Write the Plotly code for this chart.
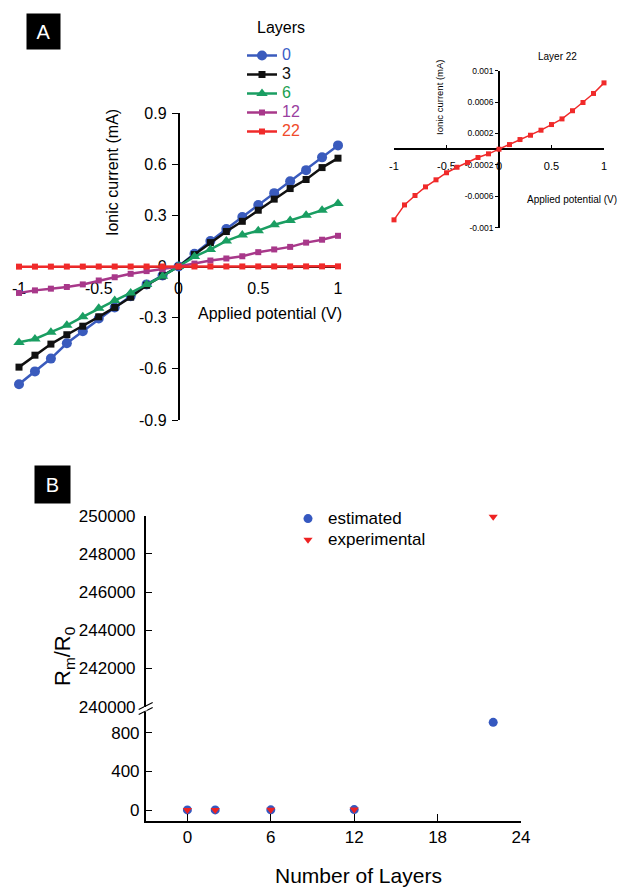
import plotly.graph_objects as go

# The page places the plot 8px from the top-left corner (default body margin),
# so positions read from the reference are shifted by that offset.
OX, OY = 8, 8
FW, FH = 611, 880
def fx(px): return (px - OX) / FW
def fy(py): return 1 - (py - OY) / FH

# ---------------- Data: panel A ----------------
voltage = [-1.0, -0.9, -0.8, -0.7, -0.6, -0.5, -0.4, -0.3, -0.2, -0.1, 0.0,
           0.1, 0.2, 0.3, 0.4, 0.5, 0.6, 0.7, 0.8, 0.9, 1.0]
current_0 = [-0.69, -0.615, -0.54, -0.45, -0.38, -0.305, -0.24, -0.174, -0.105, -0.053, 0.0,
             0.075, 0.15, 0.22, 0.29, 0.36, 0.43, 0.50, 0.565, 0.64, 0.71]
current_3 = [-0.59, -0.52, -0.455, -0.40, -0.35, -0.295, -0.24, -0.18, -0.11, -0.055, 0.0,
             0.07, 0.14, 0.205, 0.265, 0.33, 0.395, 0.457, 0.51, 0.58, 0.635]
current_6 = [-0.445, -0.425, -0.385, -0.345, -0.295, -0.245, -0.20, -0.155, -0.105, -0.057, 0.0,
             0.058, 0.10, 0.15, 0.185, 0.21, 0.245, 0.27, 0.30, 0.33, 0.37]
current_12 = [-0.155, -0.14, -0.13, -0.12, -0.105, -0.082, -0.063, -0.043, -0.027, -0.015, 0.0,
              0.017, 0.035, 0.047, 0.06, 0.084, 0.10, 0.115, 0.14, 0.157, 0.18]
current_22 = [-0.0009, -0.00071, -0.00059, -0.00048, -0.00039, -0.0003, -0.00023, -0.00017,
              -0.000106, -0.000059, 0.0, 0.000059, 0.000123, 0.000178, 0.000242, 0.000314,
              0.000386, 0.00049, 0.000595, 0.00071, 0.000845]
layer_names = ["0", "3", "6", "12", "22"]

a_x_ticks = [-1, -0.5, 0, 0.5, 1]
a_x_ticktext = ["-1", "-0.5", "0", "0.5", "1"]
a_y_ticks = [0.9, 0.6, 0.3, 0, -0.3, -0.6, -0.9]
a_y_ticktext = ["0.9", "0.6", "0.3", "0", "-0.3", "-0.6", "-0.9"]
inset_y_ticks = [0.001, 0.0006, 0.0002, -0.0002, -0.0006, -0.001]
inset_y_ticktext = ["0.001", "0.0006", "0.0002", "-0.0002", "-0.0006", "-0.001"]

# ---------------- Data: panel B ----------------
layers_b = [0, 2, 6, 12, 22]
estimated = [1.0, 1.1, 1.9, 3.9, 906]
experimental = [1.0, 1.12, 1.92, 3.94, 249950]
b_x_ticks = [0, 6, 12, 18, 24]
b_upper_ticks = [240000, 242000, 244000, 246000, 248000, 250000]
b_lower_ticks = [0, 400, 800]
BREAK = 240000

FONT = "Liberation Sans, Arial, sans-serif"
BLUE = "#3a5bbd"
BLACK = "#111111"
GREEN = "#1a9e62"
PURPLE = "#a8388a"
RED = "#f02a2a"

fig = go.Figure()

series = [
    (current_0, BLUE, "circle", 10, "#3a5cc6"),
    (current_3, BLACK, "square", 7, "#111111"),
    (current_6, GREEN, "triangle-up", 10, "#1aa050"),
    (current_12, PURPLE, "square", 6, "#9a3fa0"),
    (current_22, RED, "square", 6, "#f04a2a"),
]
for (ys, col, sym, sz, tcol), nm in zip(series, layer_names):
    fig.add_trace(go.Scatter(
        x=voltage, y=ys, mode="lines+markers", xaxis="x", yaxis="y",
        name=f"<span style='color:{tcol};font-size:16px'>{nm}</span>",
        line=dict(color=col, width=2.5),
        marker=dict(symbol=sym, size=sz, color=col),
        cliponaxis=False, legend="legend",
    ))

# inset
fig.add_trace(go.Scatter(
    x=voltage, y=current_22, mode="lines+markers", xaxis="x2", yaxis="y2",
    line=dict(color=RED, width=1.5), marker=dict(symbol="square", size=5, color=RED),
    showlegend=False, cliponaxis=False,
))

# panel B: split each series over the two y-axis segments
def split(xs, ys, upper):
    px_, py_ = [], []
    for a, b in zip(xs, ys):
        if (b >= BREAK) == upper:
            px_.append(a); py_.append(b)
    return px_, py_

for name, ys, col, sym in [("estimated", estimated, "#3558c0", "circle"),
                           ("experimental", experimental, "#ee2222", "triangle-down")]:
    for upper in (False, True):
        xx, yy = split(layers_b, ys, upper)
        fig.add_trace(go.Scatter(
            x=xx, y=yy, mode="markers", xaxis="x3", yaxis="y4" if upper else "y3",
            name=f"<span style='font-size:17px'>{name}</span>",
            marker=dict(symbol=sym, size=9 if sym == "circle" else 8, color=col),
            showlegend=not upper, legend="legend2", cliponaxis=False,
        ))

# ---- axis geometry (reference pixels) ----
ax_l, ax_r = 19, 338
ay_t, ay_b = 113, 420
ypos_zero = ay_t + (0.9 - 0) / 1.8 * (ay_b - ay_t)
xpos_zero = ax_l + (0 + 1) / 2 * (ax_r - ax_l)
ix_l, ix_r = 394, 604
iy_t, iy_b = 70.7, 227.7
iy_zero = (iy_t + iy_b) / 2
ix_zero = (ix_l + ix_r) / 2
bx_l, bx_r = 145.7, 521
low_b, low_t = 821, 712
y0px, per = 810, 38.7 / 400
low_range = [-(low_b - y0px) / per, (y0px - low_t) / per]
up_b, up_t = 706.7, 515.7

axis_common = dict(showgrid=False, zeroline=False, showline=True, linecolor="black",
                   linewidth=1.5, tickcolor="black", automargin=False,
                   tickfont=dict(family=FONT, color="black"))

fig.update_layout(
    width=FW, height=FH, margin=dict(l=0, r=0, t=0, b=0, autoexpand=False),
    paper_bgcolor="white", plot_bgcolor="rgba(0,0,0,0)",
    font=dict(family=FONT, color="black"),
    xaxis=dict(**axis_common, domain=[fx(ax_l), fx(ax_r)], range=[-1, 1], anchor="free",
               position=fy(ypos_zero), tickvals=a_x_ticks, ticktext=a_x_ticktext,
               ticks="", tickfont_size=16, layer="below traces", ticklabelstandoff=8),
    yaxis=dict(**axis_common, domain=[fy(ay_b), fy(ay_t)], range=[-0.9, 0.9], anchor="free",
               position=fx(xpos_zero), tickvals=a_y_ticks, ticktext=a_y_ticktext,
               ticks="outside", ticklen=6, tickfont_size=16, layer="below traces",
               ticklabelstandoff=2),
    xaxis2=dict(**axis_common, domain=[fx(ix_l), fx(ix_r)], range=[-1, 1], anchor="free",
                position=fy(iy_zero), tickvals=a_x_ticks, ticktext=a_x_ticktext,
                ticks="inside", ticklen=3, tickfont_size=11, layer="below traces",
                ticklabelstandoff=7),
    yaxis2=dict(**axis_common, domain=[fy(iy_b), fy(iy_t)], range=[-0.001, 0.001],
                anchor="free", position=fx(ix_zero), tickvals=inset_y_ticks,
                ticktext=inset_y_ticktext, ticks="outside", ticklen=3, tickfont_size=8.5,
                layer="below traces"),
    xaxis3=dict(**axis_common, domain=[fx(bx_l), fx(bx_r)], range=[-3, 24], anchor="y3",
                tickvals=b_x_ticks, ticks="inside", ticklen=7, tickfont_size=17),
    yaxis3=dict(**axis_common, domain=[fy(low_b), fy(low_t)], range=low_range, anchor="x3",
                tickvals=b_lower_ticks, ticks="inside", ticklen=7, tickfont_size=17,
                ticklabelstandoff=1),
    yaxis4=dict(**axis_common, domain=[fy(up_b), fy(up_t)], range=[240000, 250000],
                anchor="x3", tickvals=b_upper_ticks, ticktext=[str(v) for v in b_upper_ticks],
                ticks="inside", ticklen=7, tickfont_size=17, ticklabelstandoff=5),
    legend=dict(x=fx(242), y=fy(41), xanchor="left", yanchor="top",
                bgcolor="rgba(0,0,0,0)", font=dict(size=11.5, family=FONT),
                tracegroupgap=0),
    legend2=dict(x=fx(288), y=fy(503), xanchor="left", yanchor="top",
                 bgcolor="rgba(0,0,0,0)", font=dict(size=14, family=FONT, color="black")),
    showlegend=True,
)

ann = [
    dict(text="A", x=fx(43.5), y=fy(31.5), width=31, height=33, bgcolor="black",
         font=dict(color="white", size=20)),
    dict(text="B", x=fx(52.5), y=fy(484.5), width=33, height=35, bgcolor="black",
         font=dict(color="white", size=20)),
    dict(text="Layers", x=fx(281), y=fy(27), font=dict(size=16)),
    dict(text="Ionic current (mA)", x=fx(112), y=fy(173), textangle=-90, font=dict(size=16)),
    dict(text="Applied potential (V)", x=fx(270), y=fy(313), font=dict(size=16)),
    dict(text="Layer 22", x=fx(557), y=fy(56), font=dict(size=10)),
    dict(text="Ionic current (mA)", x=fx(440), y=fy(97), textangle=-90, font=dict(size=9.5)),
    dict(text="Applied potential (V)", x=fx(572), y=fy(200), font=dict(size=10)),
    dict(text="R<sub>m</sub>/R<sub>0</sub>", x=fx(64), y=fy(657), textangle=-90,
         font=dict(size=22)),
    dict(text="Number of Layers", x=fx(358), y=fy(875), font=dict(size=21)),
]
for a in ann:
    a.update(xref="paper", yref="paper", showarrow=False, xanchor="center", yanchor="middle")
    a["font"].setdefault("family", FONT)
    a["font"].setdefault("color", "black")
fig.update_layout(annotations=ann)

# axis break marks
for dy in (-2.5, 2.5):
    fig.add_shape(type="line", xref="paper", yref="paper",
                  x0=fx(bx_l - 7), y0=fy(712 + dy), x1=fx(bx_l + 7), y1=fy(705 + dy),
                  line=dict(color="black", width=1.2))
fig.add_shape(type="rect", xref="paper", yref="paper", x0=fx(bx_l - 1.5), x1=fx(bx_l + 1.5),
              y0=fy(710.5), y1=fy(707), fillcolor="white", line=dict(width=0))

fig.write_html("out.html")
